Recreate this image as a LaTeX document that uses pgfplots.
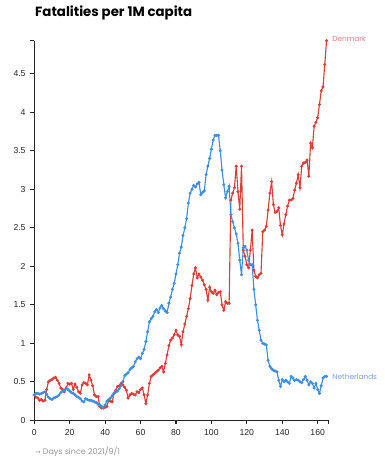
\documentclass[border=0pt]{standalone}
\usepackage{fontspec}
\setmainfont{Liberation Sans}
\newfontfamily\pop{Poppins}
\newfontfamily\dejavu{DejaVu Sans}
\usepackage{pgfplots}
\pgfplotsset{compat=1.18}
\usepackage{pgfplotstable}
\definecolor{dkred}{RGB}{220,62,56}
\definecolor{nlblue}{RGB}{62,142,226}
\definecolor{dklab}{RGB}{232,120,130}
\definecolor{nllab}{RGB}{120,160,230}
\definecolor{axgrey}{RGB}{150,150,150}

\pgfplotstableread{
x y
0 0.33
1 0.30
2 0.29
3 0.26
4 0.27
5 0.25
6 0.26
7 0.40
8 0.50
9 0.52
10 0.53
11 0.55
12 0.56
13 0.52
14 0.48
15 0.42
16 0.40
17 0.37
18 0.42
19 0.48
20 0.47
21 0.48
22 0.40
23 0.47
24 0.43
25 0.37
26 0.35
27 0.46
28 0.49
29 0.48
30 0.46
31 0.59
32 0.52
33 0.45
34 0.33
35 0.31
36 0.31
37 0.18
38 0.16
39 0.16
40 0.17
41 0.18
42 0.26
43 0.25
44 0.24
45 0.35
46 0.39
47 0.44
48 0.45
49 0.48
50 0.46
51 0.43
52 0.39
53 0.29
54 0.33
55 0.35
56 0.34
57 0.33
58 0.37
59 0.36
60 0.40
61 0.42
62 0.33
63 0.22
64 0.33
65 0.48
66 0.57
67 0.59
68 0.61
69 0.63
70 0.65
71 0.68
72 0.70
73 0.63
74 0.74
75 0.85
76 0.97
77 1.04
78 1.07
79 1.11
80 1.17
81 1.11
82 1.09
83 0.98
84 1.15
85 1.25
86 1.35
87 1.45
88 1.58
89 1.75
90 1.90
91 1.98
92 1.85
93 1.90
94 1.86
95 1.82
96 1.76
97 1.70
98 1.56
99 1.73
100 1.67
101 1.65
102 1.69
103 1.63
104 1.66
105 1.67
106 1.50
107 1.43
108 1.54
109 1.52
110 1.52
111 2.86
112 2.95
113 3.02
114 3.30
115 2.97
116 2.74
117 3.30
118 2.21
119 2.13
120 2.02
121 1.98
122 2.21
123 2.47
124 1.95
125 1.87
126 1.85
127 1.89
128 1.91
129 2.45
130 2.47
131 2.52
132 2.73
133 2.95
134 3.10
135 2.80
136 2.70
137 2.71
138 2.76
139 2.53
140 2.41
141 2.55
142 2.67
143 2.78
144 2.86
145 2.86
146 2.88
147 2.99
148 3.08
149 3.19
150 3.02
151 3.30
152 3.34
153 3.35
154 3.38
155 3.17
156 3.60
157 3.54
158 3.82
159 3.87
160 3.93
161 4.10
162 4.28
163 4.33
164 4.62
165 4.93
}\denmark

\pgfplotstableread{
x y
0 0.33
1 0.35
2 0.35
3 0.34
4 0.35
5 0.36
6 0.37
7 0.34
8 0.30
9 0.28
10 0.27
11 0.29
12 0.30
13 0.31
14 0.33
15 0.36
16 0.38
17 0.39
18 0.41
19 0.40
20 0.38
21 0.36
22 0.35
23 0.33
24 0.31
25 0.30
26 0.28
27 0.25
28 0.24
29 0.28
30 0.27
31 0.26
32 0.26
33 0.25
34 0.24
35 0.23
36 0.21
37 0.20
38 0.18
39 0.17
40 0.20
41 0.25
42 0.27
43 0.29
44 0.32
45 0.35
46 0.37
47 0.38
48 0.41
49 0.45
50 0.50
51 0.58
52 0.60
53 0.62
54 0.66
55 0.68
56 0.70
57 0.76
58 0.80
59 0.82
60 0.80
61 0.87
62 0.92
63 1.02
64 1.15
65 1.28
66 1.32
67 1.35
68 1.41
69 1.44
70 1.40
71 1.46
72 1.49
73 1.45
74 1.42
75 1.40
76 1.52
77 1.60
78 1.70
79 1.78
80 1.90
81 2.02
82 2.17
83 2.25
84 2.40
85 2.50
86 2.62
87 2.82
88 2.95
89 3.00
90 3.05
91 3.03
92 3.07
93 3.09
94 2.93
95 2.96
96 2.98
97 3.19
98 3.30
99 3.40
100 3.52
101 3.64
102 3.70
103 3.70
104 3.70
105 3.50
106 3.25
107 3.06
108 2.89
109 2.97
110 3.04
111 2.67
112 2.58
113 2.50
114 2.42
115 2.30
116 2.08
117 1.89
118 2.24
119 2.26
120 2.21
121 2.08
122 2.02
123 2.02
124 1.70
125 1.50
126 1.30
127 1.17
128 1.04
129 1.00
130 0.99
131 0.98
132 0.78
133 0.70
134 0.67
135 0.65
136 0.64
137 0.63
138 0.52
139 0.44
140 0.53
141 0.50
142 0.52
143 0.50
144 0.48
145 0.57
146 0.55
147 0.52
148 0.53
149 0.52
150 0.50
151 0.49
152 0.53
153 0.57
154 0.52
155 0.46
156 0.50
157 0.48
158 0.42
159 0.48
160 0.40
161 0.35
162 0.45
163 0.55
164 0.57
165 0.57
}\netherlands

\begin{document}
\begin{tikzpicture}
\begin{axis}[
  name=ax,
  scale only axis,
  width=220.5pt, height=284.7pt,
  xmin=0, xmax=166, ymin=0, ymax=4.93,
  axis x line*=bottom, axis y line*=left,
  axis line style={line width=1.1pt, black!85, -},
  xtick={0,20,...,160}, ytick={0,0.5,...,4.5},
  extra x ticks={166}, extra x tick labels={},
  extra y ticks={4.93}, extra y tick labels={},
  extra x tick style={tick style={line width=0.8pt, black!85}},
  extra y tick style={tick style={line width=0.8pt, black!85}},
  tick align=outside, major tick length=3pt,
  tick style={line width=0.8pt, black!85},
  tick label style={font=\fontsize{6.5}{7}\selectfont, text=black!85},
  /pgf/number format/assume math mode=true,
  yticklabel style={/pgf/number format/fixed},
  clip=false,
]
\addplot[color=dkred, line width=0.85pt, mark=*, mark size=0.65pt, mark options={fill=dkred!85!black, draw=none}] table[x=x,y=y] {\denmark};
\addplot[color=nlblue, line width=0.85pt, mark=*, mark size=0.65pt, mark options={fill=nlblue!85!black, draw=none}] table[x=x,y=y] {\netherlands};
\node[anchor=west, inner sep=0pt, text=dklab, font=\pop\fontsize{5.5}{6}\selectfont] at (axis cs:168.2,4.95) {Denmark};
\node[anchor=west, inner sep=0pt, text=nllab, font=\pop\fontsize{5.5}{6}\selectfont] at (axis cs:168.2,0.57) {Netherlands};
\end{axis}
\node[anchor=base west, inner sep=0pt, font=\pop\bfseries\fontsize{10}{12}\selectfont] at (0.5pt,302.5pt) {Fatalities per 1M capita};
\node[anchor=base west, inner sep=0pt, text=axgrey, font=\pop\fontsize{6}{7}\selectfont] at (0.5pt,-26pt) {{\dejavu\fontsize{5}{6}\selectfont →}\ Days since 2021/9/1};
\pgfresetboundingbox
\path (-25.7pt,-30.5pt) rectangle (262.3pt,315.2pt);
\end{tikzpicture}
\end{document}
